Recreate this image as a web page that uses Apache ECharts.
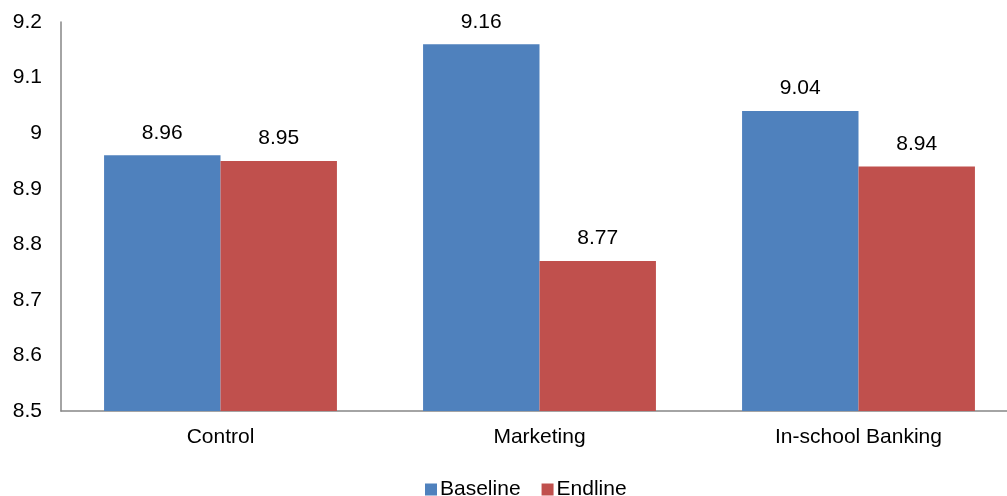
<!DOCTYPE html>
<html><head><meta charset="utf-8">
<script src="https://cdn.jsdelivr.net/npm/echarts@6/dist/echarts.min.js"></script>
<style>html,body{margin:0;padding:0;background:#fff;overflow:hidden;width:1007px;height:496px}#c{width:1030px;height:496px}</style>
</head><body><div id="c"></div>
<script>
var categories = ['Control', 'Marketing', 'In-school Banking'];
var baseline = [8.96, 9.16, 9.04];
var endline = [8.95, 8.77, 8.94];
var seriesNames = ['Baseline', 'Endline'];
var chart = echarts.init(document.getElementById('c'));
var font = 'Liberation Sans, Arial, sans-serif';
var lbl = {show: true, position: 'top', distance: 12, color: '#000', fontSize: 21, fontFamily: font};
chart.setOption({
  animation: false,
  grid: {left: 61, right: 12, top: 22, height: 389, containLabel: false},
  legend: {top: 474, left: 420, itemWidth: 12, itemHeight: 12, itemGap: 21, icon: 'rect',
    textStyle: {fontSize: 21, fontFamily: font, color: '#000', padding: [0, 0, 0, -2]}, data: seriesNames},
  xAxis: {type: 'category', data: categories,
    axisLine: {lineStyle: {color: '#868686', width: 1.5}}, axisTick: {show: false},
    axisLabel: {color: '#000', fontSize: 21, fontFamily: font, margin: 16}},
  yAxis: {type: 'value', min: 8.5, max: 9.2, interval: 0.1,
    axisLine: {show: true, lineStyle: {color: '#868686', width: 1.5}}, axisTick: {show: false},
    splitLine: {show: false},
    axisLabel: {color: '#000', fontSize: 21, fontFamily: font, margin: 19,
      formatter: function(v){ return String(Math.round(v*10)/10); }}},
  series: [
    {name: seriesNames[0], type: 'bar', data: baseline, barCategoryGap: '27%', barGap: '0%',
     itemStyle: {color: '#4F81BD'}, label: lbl},
    {name: seriesNames[1], type: 'bar', data: endline, barCategoryGap: '27%', barGap: '0%',
     itemStyle: {color: '#C0504D'}, label: lbl}
  ]
});
</script></body></html>
